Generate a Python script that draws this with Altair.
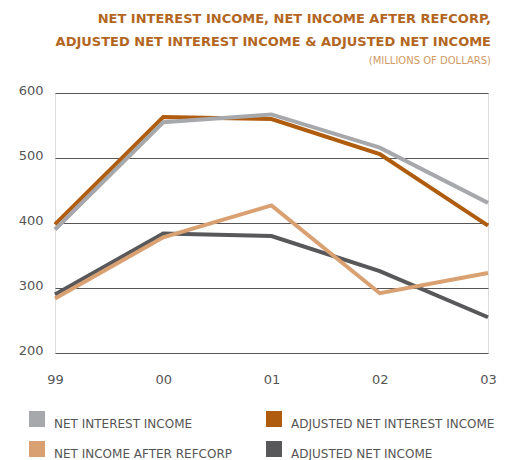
import altair as alt
import pandas as pd

years = ["99", "00", "01", "02", "03"]
series_names = [
    "NET INTEREST INCOME",
    "ADJUSTED NET INTEREST INCOME",
    "NET INCOME AFTER REFCORP",
    "ADJUSTED NET INCOME",
]
net_interest_income = [390, 555, 567, 516, 431]
adjusted_net_interest_income = [398, 563, 560, 506, 396]
net_income_after_refcorp = [284, 378, 427, 292, 323]
adjusted_net_income = [290, 384, 380, 326, 255]
y_ticks = [200, 300, 400, 500, 600]
colors = ["#a7a8ab", "#b05c0e", "#d9a072", "#58585a"]

values = [net_interest_income, adjusted_net_interest_income,
          net_income_after_refcorp, adjusted_net_income]
rows = []
for name, vals in zip(series_names, values):
    for yr, v in zip(years, vals):
        rows.append({"year": yr, "value": v, "series": name})
df = pd.DataFrame(rows)

FONT = "DejaVu Sans"

x_enc = alt.X("year:N", sort=years,
              scale=alt.Scale(type="point", padding=0),
              axis=alt.Axis(title=None, labelAngle=0, domain=False, ticks=False,
                            labelPadding=20, labelBaseline="top",
                            labelFont=FONT, labelFontSize=13, labelColor="#555555",
                            grid=False))
y_enc = alt.Y("value:Q", scale=alt.Scale(domain=[200, 600], nice=False, zero=False),
              axis=alt.Axis(title=None, values=y_ticks, domain=False, ticks=False,
                            labelPadding=12, labelFont=FONT, labelFontSize=13,
                            labelColor="#555555", labelOffset=-3,
                            grid=True, gridColor="#555555", gridWidth=1, gridOpacity=1))
color_scale = alt.Scale(domain=series_names, range=colors)
color_nolegend = alt.Color("series:N", scale=color_scale, legend=None)
color_legend = alt.Color("series:N", scale=color_scale,
                         legend=alt.Legend(title=None, orient="none", legendX=-26, legendY=318,
                                           direction="horizontal", columns=2,
                                           symbolType="square", symbolSize=256,
                                           symbolStrokeWidth=0, symbolOpacity=1,
                                           labelFont=FONT, labelFontSize=12,
                                           labelColor="#555555", labelOffset=9,
                                           labelBaseline="top", labelLimit=400,
                                           columnPadding=34, rowPadding=11))

draw_order = ["ADJUSTED NET INTEREST INCOME", "ADJUSTED NET INCOME",
              "NET INTEREST INCOME", "NET INCOME AFTER REFCORP"]

base = alt.Chart(df)
legend_layer = (base.transform_filter("false")
                .mark_point(shape="square", filled=True, opacity=1)
                .encode(x=x_enc, y=y_enc, color=color_legend))
layers = [legend_layer]
for name in draw_order:
    layers.append(
        base.transform_filter(alt.datum.series == name)
        .mark_line(strokeWidth=4, strokeJoin="miter", strokeCap="butt")
        .encode(x=x_enc, y=y_enc, color=color_nolegend)
    )

chart = alt.layer(*layers).properties(
    width=433, height=260,
    autosize=alt.AutoSizeParams(type="none"),
    padding={"left": 55, "top": 93, "right": 21, "bottom": 107},
    title=alt.TitleParams(
        text=["NET INTEREST INCOME, NET INCOME AFTER REFCORP,",
              "ADJUSTED NET INTEREST INCOME & ADJUSTED NET INCOME"],
        subtitle="(MILLIONS OF DOLLARS)",
        anchor="end", orient="top", frame="group",
        font=FONT, fontSize=13, fontWeight="bold", color="#b3661f",
        lineHeight=23, subtitleFont=FONT, subtitleFontSize=10,
        subtitleColor="#cf9a64", subtitlePadding=7, offset=18, dx=3,
    ),
).configure_view(stroke=None).configure(background="white")

chart.save("out.html", embed_options={"renderer": "svg", "actions": False})
